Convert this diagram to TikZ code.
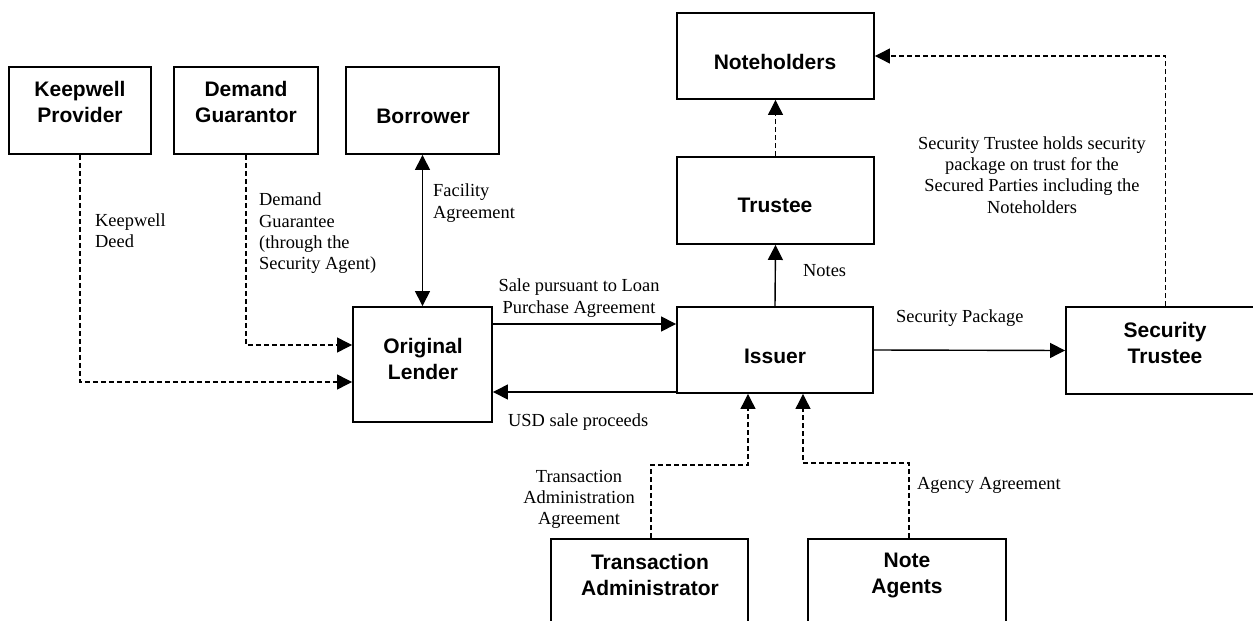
\documentclass[tikz,border=0pt]{standalone}
\usepackage{fontspec}
\setmainfont{Liberation Serif}
\newfontfamily\boxfont{Liberation Sans}
\usetikzlibrary{arrows.meta}
\tikzset{
  box/.style={draw=black, line width=1.9pt, fill=white, rectangle, inner sep=0pt},
  boxtext/.style={font=\boxfont\bfseries\fontsize{21}{26}\selectfont, align=center, inner sep=0pt},
  lbl/.style={font=\fontsize{18.4}{21.3}\selectfont, inner sep=0pt},
  tiphead/.tip={Triangle[length=15pt,width=15pt]},
  tip/.style={-tiphead},
  solidarr/.style={line width=1.4pt, tip},
  dasharr/.style={line width=1.2pt, dash pattern=on 5pt off 3pt, tip},
}
\begin{document}
\begin{tikzpicture}[x=1pt,y=-1pt]
\useasboundingbox (0,0) rectangle (1253,621);
\clip (0,0) rectangle (1253,621);
\fill[white] (0,0) rectangle (1253,621);

% boxes
\node[box, minimum width=142pt, minimum height=87pt] (kp) at (80,110.5) {};
\node[box, minimum width=144pt, minimum height=87pt] (dg) at (246,110.5) {};
\node[box, minimum width=153pt, minimum height=87pt] (bo) at (422.5,110.5) {};
\node[box, minimum width=139pt, minimum height=115pt] (ol) at (422.5,364.5) {};
\node[box, minimum width=196pt, minimum height=86pt] (is) at (775,350) {};
\node[box, minimum width=197pt, minimum height=87pt] (tr) at (775.5,200.5) {};
\node[box, minimum width=197pt, minimum height=86pt] (nh) at (775.5,56) {};
\node[box, minimum width=199pt, minimum height=87pt] (st) at (1165.5,350.5) {};
\node[box, minimum width=197pt, minimum height=101pt] (ta) at (649.5,589.5) {};
\node[box, minimum width=198pt, minimum height=101pt] (na) at (907,589.5) {};

% box texts
\node[boxtext] (kpt) at (80,102) {Keepwell\\Provider};
\node[boxtext] (dgt) at (246,102) {Demand\\Guarantor};
\node[boxtext] (bot) at (423,116) {Borrower};
\node[boxtext] (olt) at (423,359) {Original\\Lender};
\node[boxtext] (ist) at (775,356) {Issuer};
\node[boxtext] (trt) at (775,205) {Trustee};
\node[boxtext] (nht) at (775,62) {Noteholders};
\node[boxtext] (stt) at (1165,343) {Security\\Trustee};
\node[boxtext] (tat) at (650,575) {Transaction\\Administrator};
\node[boxtext] (nat) at (907,575) {Note\\Agents};

% connectors
\draw[dasharr] (kp.south) |- ([yshift=-17.5pt]ol.west);
\draw[dasharr] (dg.south) |- ([yshift=19.5pt]ol.west);
\draw[line width=1.4pt, tiphead-tiphead] (bo.south) -- (ol.north);
\draw[solidarr] ([yshift=40.5pt]ol.east) -- ([yshift=26pt]is.west);
\draw[solidarr] ([yshift=-42pt]is.west) -- ([yshift=-27.5pt]ol.east);
\draw[solidarr] (is.north) -- (tr.south);
\draw[dasharr] (tr.north) -- (nh.south);
\draw[solidarr] (is.east) -- (st.west);
\draw[dasharr] (st.north) |- (nh.east);
\draw[dasharr] ([xshift=1.5pt]ta.north) |- ++(97,-73) -- ([xshift=-27pt]is.south);
\draw[dasharr] ([xshift=2pt]na.north) |- ++(-106,-75) -- ([xshift=28pt]is.south);

% labels
\node[lbl, anchor=west, align=left] (l1) at (95,231) {Keepwell\\Deed};
\node[lbl, anchor=west, align=left] (l2) at (259,233.5) {Demand\\Guarantee\\(through the\\Security Agent)};
\node[lbl, anchor=west, align=left] (l3) at (433,203) {Facility\\Agreement};
\node[lbl, align=center] (l4) at (579,298) {Sale pursuant to Loan\\Purchase Agreement};
\node[lbl, anchor=west] (l5) at (508,422) {USD sale proceeds};
\node[lbl, anchor=west] (l6) at (803,271) {Notes};
\node[lbl, anchor=west] (l7) at (896,318) {Security Package};
\node[lbl, align=center] (l8) at (1032,175) {Security Trustee holds security\\package on trust for the\\Secured Parties including the\\Noteholders};
\node[lbl, align=center] (l9) at (579,499.5) {Transaction\\Administration\\Agreement};
\node[lbl, anchor=west] (l10) at (917,485) {Agency Agreement};
\end{tikzpicture}
\end{document}
